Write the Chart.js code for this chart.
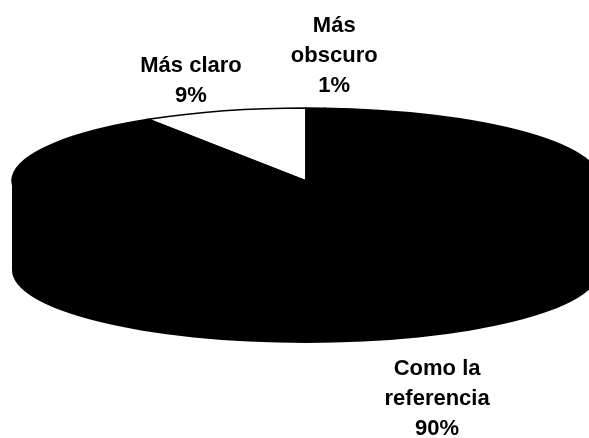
<!DOCTYPE html>
<html>
<head>
<meta charset="utf-8">
<script src="https://cdn.jsdelivr.net/npm/chart.js@4"></script>
<style>
  html, body { margin: 0; padding: 0; background: #fff; overflow: hidden; }
  canvas { display: block; }
</style>
</head>
<body>
<canvas id="pie" width="589" height="438"></canvas>
<script>
// categorias y valores (%)
const categorias = ['Más obscuro', 'Como la referencia', 'Más claro'];
const lineasEtiqueta = [['Más', 'obscuro'], ['Como la', 'referencia'], ['Más claro']];
const valores = [1, 90, 9];
const colores = ['#000000', '#000000', '#ffffff'];

// perspectiva del pastel 3D
const INCLINACION = 73 / 294;   // radio vertical / radio horizontal
const ALTURA = 89;              // grosor del disco
// desplazamiento de cada etiqueta desde el borde del sector
const desplazEtiqueta = [[19, -46], [58, 153], [-33, -24]];

// Pastel 3D: dibuja el costado, aplasta los sectores y pinta los bordes
Chart.register({
  id: 'pastel3d',
  beforeDatasetsDraw(chart) {
    const meta = chart.getDatasetMeta(0);
    const arc0 = meta.data[0];
    const cx = arc0.x, cy = arc0.y, rx = arc0.outerRadius, ry = rx * INCLINACION;
    const ctx = chart.ctx;
    // costado visible (mitad frontal, angulos 0..PI); se rellena desde el
    // centro para que la cara superior quede encima sin costura
    meta.data.forEach((arc, i) => {
      const {startAngle, endAngle} = arc.getProps(['startAngle', 'endAngle']);
      for (let k = -1; k <= 1; k++) {
        const lo = Math.max(startAngle, 2 * Math.PI * k);
        const hi = Math.min(endAngle, 2 * Math.PI * k + Math.PI);
        if (lo >= hi) continue;
        ctx.save();
        ctx.beginPath();
        ctx.moveTo(cx, cy);
        ctx.lineTo(cx + rx * Math.cos(lo), cy + ry * Math.sin(lo));
        ctx.lineTo(cx + rx * Math.cos(lo), cy + ALTURA + ry * Math.sin(lo));
        ctx.ellipse(cx, cy + ALTURA, rx, ry, 0, lo, hi);
        ctx.lineTo(cx + rx * Math.cos(hi), cy + ry * Math.sin(hi));
        ctx.closePath();
        ctx.fillStyle = colores[i];
        ctx.fill();
        ctx.restore();
      }
    });
    ctx.save();
    ctx.translate(0, cy);
    ctx.scale(1, INCLINACION);
    ctx.translate(0, -cy);
  },
  afterDatasetsDraw(chart) {
    const ctx = chart.ctx;
    ctx.restore();
    const meta = chart.getDatasetMeta(0);
    const arc0 = meta.data[0];
    const cx = arc0.x, cy = arc0.y, rx = arc0.outerRadius, ry = rx * INCLINACION;
    const total = valores.reduce((a, b) => a + b, 0);

    meta.data.forEach((arc, i) => {
      const {startAngle, endAngle} = arc.getProps(['startAngle', 'endAngle']);
      // contorno del sector
      ctx.save();
      ctx.beginPath();
      ctx.moveTo(cx, cy);
      ctx.ellipse(cx, cy, rx, ry, 0, startAngle, endAngle);
      ctx.closePath();
      ctx.strokeStyle = '#000';
      ctx.lineWidth = 1.5;
      ctx.stroke();
      ctx.restore();

      // etiqueta: nombre y porcentaje
      const mid = (startAngle + endAngle) / 2;
      const ax = cx + rx * Math.cos(mid) + desplazEtiqueta[i][0];
      const ay = cy + ry * Math.sin(mid) + desplazEtiqueta[i][1];
      const lineas = lineasEtiqueta[i].concat([Math.round(valores[i] / total * 100) + '%']);
      ctx.save();
      ctx.font = 'bold 22px "Liberation Sans", Arial, sans-serif';
      ctx.fillStyle = '#000';
      ctx.textAlign = 'center';
      ctx.textBaseline = 'alphabetic';
      const paso = 30;
      lineas.forEach((t, j) => {
        ctx.fillText(t, ax, ay + (j - (lineas.length - 1) / 2) * paso);
      });
      ctx.restore();
    });
  }
});

new Chart(document.getElementById('pie'), {
  type: 'pie',
  data: {
    labels: categorias,
    datasets: [{
      data: valores,
      backgroundColor: colores,
      borderWidth: 0,
      clip: false
    }]
  },
  options: {
    responsive: false,
    animation: false,
    events: [],
    radius: 294,
    layout: { padding: { left: 23, right: 0, top: 0, bottom: 76 } },
    plugins: {
      legend: { display: false },
      tooltip: { enabled: false }
    }
  }
});
</script>
</body>
</html>
